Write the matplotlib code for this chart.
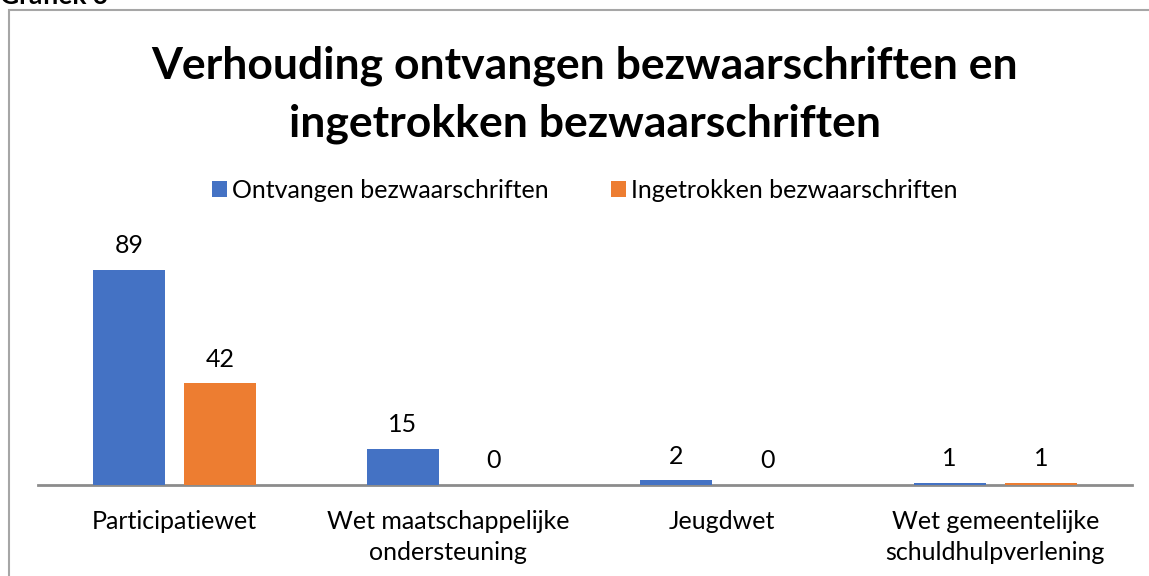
import numpy as np
import matplotlib.pyplot as plt
from matplotlib.patches import Rectangle

categories = ["Participatiewet", "Wet maatschappelijke\nondersteuning", "Jeugdwet",
              "Wet gemeentelijke\nschuldhulpverlening"]
ontvangen = [89, 15, 2, 1]
ingetrokken = [42, 0, 0, 1]
series_names = ["Ontvangen bezwaarschriften", "Ingetrokken bezwaarschriften"]

blue = "#4472C4"
orange = "#ED7D31"

plt.rcParams['font.family'] = ['Lato', 'DejaVu Sans']

fig = plt.figure(figsize=(11.49, 5.76), dpi=100)

# frame around chart (extends past the right/bottom edge like the crop)
fig.patches.append(Rectangle((9 / 1149, -0.1), 1.2, 1 - 10 / 576 + 0.1,
                             transform=fig.transFigure, fill=False,
                             edgecolor="#a6a6a6", linewidth=1.5))
fig.text(0.0, 1 - 4 / 576, "Grafiek 3", fontsize=19, fontweight="bold",
         ha="left", va="baseline")

ax = fig.add_axes([0.0331, 0.158, 0.9521, 0.4196])
x = np.arange(len(categories))
w = 0.263
off = 0.167
b1 = ax.bar(x - off, ontvangen, w, color=blue, label=series_names[0], zorder=3)
b2 = ax.bar(x + off, ingetrokken, w, color=orange, label=series_names[1], zorder=3)

for bars, vals in [(b1, ontvangen), (b2, ingetrokken)]:
    for r, v in zip(bars, vals):
        ax.annotate(str(v), (r.get_x() + r.get_width() / 2, v), xytext=(0, 9),
                    textcoords="offset points", ha="center", va="bottom", fontsize=18)

ax.set_xlim(-0.5, 3.5)
ax.set_ylim(0, 100)
ax.set_xticks(x)
ax.set_xticklabels(categories, fontsize=18, linespacing=1.4)
ax.tick_params(axis="x", length=0, pad=18)
ax.set_yticks([])
for s in ["top", "right", "left"]:
    ax.spines[s].set_visible(False)
ax.spines["bottom"].set_color("#8c8c8c")
ax.spines["bottom"].set_linewidth(2)

fig.text(0.509, 1 - 137 / 576,
         "Verhouding ontvangen bezwaarschriften en\ningetrokken bezwaarschriften",
         ha="center", va="baseline", fontsize=32, fontweight="bold", linespacing=1.55)

fig.legend(loc="center", bbox_to_anchor=(0.509, 1 - 190 / 576), ncol=2, frameon=False,
           fontsize=18, handlelength=0.6, handleheight=0.6, handletextpad=0.2,
           columnspacing=2.5)

fig.savefig("out.png", dpi=100)
